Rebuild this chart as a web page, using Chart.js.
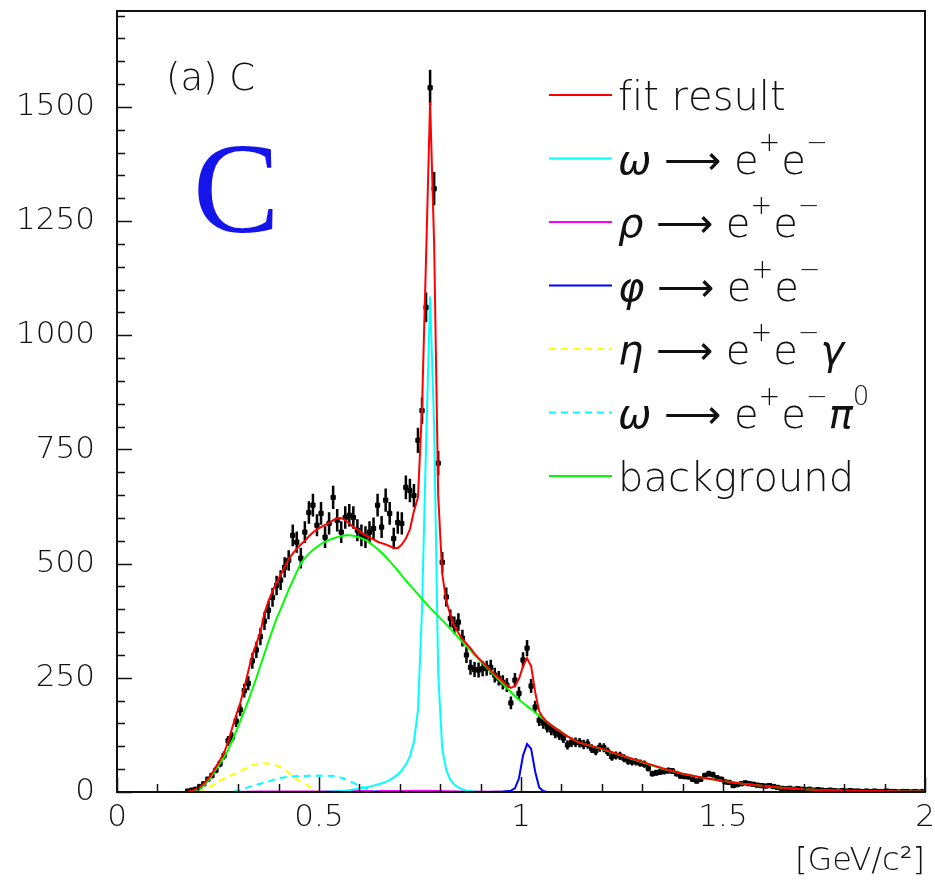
<!DOCTYPE html>
<html>
<head>
<meta charset="utf-8">
<script src="https://cdn.jsdelivr.net/npm/chart.js@4.4.0/dist/chart.umd.min.js"></script>
<style>
  html, body { margin: 0; padding: 0; background: #fff; }
  #wrap { width: 935px; height: 884px; }
</style>
</head>
<body>
<div id="wrap"><canvas id="massChart" width="935" height="884"></canvas></div>
<script>
// histogram: 10 MeV bins starting at 0.17 GeV
const histLow = 0.17;
const binWidth = 0.01;
const counts = [
  2, 4, 6, 12, 18, 28, 36, 48, 62, 80,
  112, 120, 155, 180, 222, 238, 287, 311, 340, 374,
  398, 426, 452, 464, 492, 507, 562, 547, 512, 569,
  612, 628, 584, 610, 558, 588, 645, 595, 569, 601,
  606, 601, 573, 562, 558, 569, 577, 628, 580, 639,
  610, 555, 590, 588, 667, 660, 649, 770, 835, 1061,
  1542, 1321, 720, 503, 427, 380, 365, 372, 337, 300,
  273, 268, 267, 270, 271, 273, 256, 249, 240, 234,
  195, 245, 216, 289, 315, 232, 186, 157, 151, 142,
  136, 129, 125, 118, 103, 109, 109, 108, 104, 105,
  95, 90, 98, 97, 88, 77, 80, 79, 74, 68,
  66, 66, 63, 61, 52, 40, 42, 44, 45, 47,
  46, 40, 35, 34, 33, 28, 24, 28, 36, 40,
  38, 31, 28, 22, 21, 14, 16, 18, 20, 18,
  17, 15, 14, 13, 14, 12, 10, 8, 7, 8,
  6, 7, 6, 5, 6, 4, 5, 4, 3, 4,
  3, 2, 3, 2, 3, 2, 2, 1, 2, 1,
  2, 1, 1, 2, 1, 1, 0, 1, 1, 0,
  1, 0, 1
];

// fit curves, dense part on the bin centres 0.175 .. 1.145
const fitDense = [
  1, 3, 6, 11, 18, 28, 40, 55, 70, 86,
  110, 140, 168, 195, 228, 265, 300, 325, 350, 392,
  418, 440, 458, 475, 492, 510, 522, 533, 542, 550,
  560, 568, 575, 580, 585, 589, 595, 599, 600, 595,
  588, 580, 575, 568, 562, 557, 553, 548, 545, 542,
  538, 535, 534, 542, 555, 575, 615, 645, 840, 1170,
  1510, 1200, 650, 478, 418, 388, 364, 348, 335, 325,
  315, 303, 293, 284, 275, 266, 258, 250, 242, 234,
  228, 232, 248, 275, 293, 276, 219, 177, 162, 153,
  146, 140, 134, 128, 122, 117, 112, 108
];
const backgroundDense = [
  0, 1, 3, 7, 14, 24, 36, 50, 63, 76,
  92, 112, 133, 155, 177, 200, 225, 250, 277, 303,
  330, 355, 380, 400, 422, 443, 462, 482, 500, 512,
  522, 530, 537, 543, 548, 552, 555, 558, 560, 562,
  562, 561, 559, 556, 552, 546, 539, 532, 524, 515,
  505, 495, 485, 474, 463, 453, 443, 433, 423, 413,
  403, 394, 385, 376, 367, 358, 348, 338, 329, 319,
  310, 300, 291, 282, 273, 264, 255, 246, 237, 228,
  219, 210, 202, 195, 188, 181, 174, 167, 160, 153,
  146, 140, 134, 128, 122, 117, 112, 108
];
const tailMass = [1.2, 1.25, 1.3, 1.35, 1.4, 1.45, 1.5, 1.55, 1.6, 1.65, 1.7, 1.75, 1.8, 1.85, 1.9, 1.95, 2.0];
const fitTail = [95, 80, 66, 52, 40, 31, 24, 18, 13, 9, 6, 4, 3, 2, 2, 1, 1];
const backgroundTail = [94, 79, 65, 51, 40, 31, 24, 18, 13, 9, 6, 4, 3, 2, 2, 1, 1];

// signal components as [mass, value]
const omegaEE = [[0.2, 0], [0.5, 0], [0.555, 2], [0.575, 4], [0.595, 7], [0.615, 10], [0.635, 14], [0.655, 19],
  [0.675, 26], [0.695, 38], [0.705, 48], [0.715, 60], [0.725, 78], [0.735, 110], [0.745, 180], [0.755, 400],
  [0.765, 760], [0.775, 1085], [0.785, 800], [0.795, 260], [0.805, 95], [0.815, 48], [0.825, 27], [0.835, 16],
  [0.845, 10], [0.855, 6], [0.865, 3], [0.885, 1], [0.9, 0], [2.0, 0]];
const rhoEE = [[0.2, 0], [0.3, 0], [0.35, 1], [0.5, 1], [0.6, 2], [0.7, 2], [0.77, 3], [0.85, 1], [1.0, 0], [2.0, 0]];
const phiEE = [[0.92, 0], [0.955, 1], [0.975, 3], [0.985, 8], [0.995, 30], [1.005, 80], [1.015, 105],
  [1.025, 95], [1.035, 45], [1.045, 10], [1.055, 2], [1.065, 0]];
const etaDalitz = [[0.2, 0], [0.215, 3], [0.23, 11], [0.25, 22], [0.27, 32], [0.295, 41], [0.315, 50], [0.335, 59],
  [0.365, 63], [0.385, 61], [0.405, 55], [0.42, 46], [0.435, 34], [0.45, 25], [0.47, 15], [0.485, 7], [0.495, 0], [2.0, 0]];
const omegaDalitz = [[0.2, 0], [0.28, 0], [0.3, 3], [0.32, 9], [0.35, 17], [0.37, 22], [0.4, 30], [0.43, 34],
  [0.45, 35], [0.5, 36], [0.54, 35], [0.56, 30], [0.58, 22], [0.6, 14], [0.62, 6], [0.64, 1], [0.66, 0], [2.0, 0]];

const seriesLabels = ['fit result', 'ω ⟶ e^+e^−', 'ρ ⟶ e^+e^−', 'φ ⟶ e^+e^−', 'η ⟶ e^+e^−γ', 'ω ⟶ e^+e^−π^0', 'background'];
const xTicks = [0, 0.5, 1, 1.5, 2];
const xTickLabels = ['0', '0.5', '1', '1.5', '2'];
const yTicks = [0, 250, 500, 750, 1000, 1250, 1500];
const yTickLabels = ['0', '250', '500', '750', '1000', '1250', '1500'];

const binCenter = i => +(histLow + (i + 0.5) * binWidth).toFixed(3);
const dataPts = counts.map((c, i) => ({ x: binCenter(i), y: c }));
const densePts = arr => arr.map((v, i) => ({ x: binCenter(i), y: v }));
const tailPts = arr => arr.map((v, i) => ({ x: tailMass[i], y: v }));
const pairPts = arr => arr.map(p => ({ x: p[0], y: p[1] }));

const FONT = "'DejaVu Sans'";

function drawRich(ctx, text, x, y) {
  for (let i = 0; i < text.length; i++) {
    let ch = text[i], sup = false;
    if (ch === '^') { sup = true; ch = text[++i]; }
    const greek = /[\u0370-\u03ff]/.test(ch);
    ctx.font = (greek ? 'italic ' : '') + '200 ' + (sup ? 26 : 40) + 'px ' + FONT;
    ctx.fillText(ch, x, sup ? y - 23 : y);
    x += ctx.measureText(ch).width + (sup ? 1 : 0);
  }
}

const rootStyle = {
  id: 'rootStyle',
  beforeDatasetsDraw(chart) {
    // error bars of the data histogram
    const { ctx, chartArea: a, scales: { x, y } } = chart;
    ctx.save();
    ctx.beginPath();
    ctx.rect(a.left, a.top, a.width, a.height);
    ctx.clip();
    ctx.strokeStyle = '#000';
    ctx.lineWidth = 2.5;
    counts.forEach((c, i) => {
      const m = binCenter(i);
      const px = x.getPixelForValue(m), py = y.getPixelForValue(c);
      const e = Math.sqrt(c);
      ctx.beginPath();
      ctx.moveTo(x.getPixelForValue(m - binWidth / 2), py);
      ctx.lineTo(x.getPixelForValue(m + binWidth / 2), py);
      if (c > 0) {
        ctx.moveTo(px, y.getPixelForValue(c - e));
        ctx.lineTo(px, y.getPixelForValue(c + e));
      }
      ctx.stroke();
    });
    ctx.restore();
  },
  afterDraw(chart) {
    const { ctx, chartArea: a, scales: { x, y } } = chart;
    ctx.save();
    // frame
    ctx.strokeStyle = '#111';
    ctx.lineWidth = 2;
    ctx.strokeRect(a.left, a.top, a.width, a.height);
    // inward ticks
    ctx.lineWidth = 1.5;
    ctx.beginPath();
    for (let v = 0; v <= y.max; v += 50) {
      const py = Math.round(y.getPixelForValue(v)) + 0.5;
      ctx.moveTo(a.left, py);
      ctx.lineTo(a.left + (v % 250 === 0 ? 15 : 8), py);
    }
    for (let k = 0; k <= 20; k++) {
      const px = Math.round(x.getPixelForValue(k / 10)) + 0.5;
      ctx.moveTo(px, a.bottom);
      ctx.lineTo(px, a.bottom - (k % 5 === 0 ? 15 : 8));
    }
    ctx.stroke();

    // pad label
    ctx.fillStyle = '#111';
    ctx.textBaseline = 'alphabetic';
    ctx.font = '200 37px ' + FONT;
    ctx.fillText('(a) C', 166, 90);
    ctx.fillStyle = 'rgb(20,20,235)';
    ctx.font = "130px 'Liberation Serif'";
    ctx.fillText('C', 193, 232);

    // legend
    const rows = chart.data.datasets.filter(d => d.label !== 'data');
    rows.forEach((d, i) => {
      const ly = 95 + i * 63.5;
      ctx.strokeStyle = d.borderColor;
      ctx.lineWidth = 2;
      ctx.setLineDash(d.borderDash || []);
      ctx.beginPath();
      ctx.moveTo(549, ly);
      ctx.lineTo(612, ly);
      ctx.stroke();
      ctx.setLineDash([]);
      ctx.fillStyle = '#111';
      drawRich(ctx, d.label, 618, ly + 15);
    });
    ctx.restore();
  }
};

const curve = (label, data, color, order, dash) => ({
  label, data, borderColor: color, backgroundColor: color,
  showLine: true, pointRadius: 0, borderWidth: 2, order,
  borderDash: dash || []
});

const ctx = document.getElementById('massChart').getContext('2d');
const massChart = new Chart(ctx, {
  type: 'scatter',
  data: {
    datasets: [
      curve(seriesLabels[0], densePts(fitDense).concat(tailPts(fitTail)), '#ff0000', 2),
      curve(seriesLabels[1], pairPts(omegaEE), '#00ffff', 5),
      curve(seriesLabels[2], pairPts(rhoEE), '#ff00ff', 6),
      curve(seriesLabels[3], pairPts(phiEE), '#0000ff', 4),
      curve(seriesLabels[4], pairPts(etaDalitz), '#ffff00', 1, [7, 5]),
      curve(seriesLabels[5], pairPts(omegaDalitz), '#00ffff', 1, [7, 5]),
      curve(seriesLabels[6], densePts(backgroundDense).concat(tailPts(backgroundTail)), '#00ff00', 3),
      {
        label: 'data', data: dataPts, order: 10,
        pointStyle: 'rect', pointRadius: 3, borderWidth: 1,
        backgroundColor: '#000', borderColor: '#000', showLine: false
      }
    ]
  },
  options: {
    responsive: false,
    animation: false,
    devicePixelRatio: 1,
    layout: { padding: { top: 11, right: 10, left: 0, bottom: 0 } },
    plugins: { legend: { display: false }, tooltip: { enabled: false } },
    scales: {
      x: {
        type: 'linear', min: 0, max: 2,
        afterBuildTicks: s => { s.ticks = xTicks.map(v => ({ value: v })); },
        afterFit: s => { s.height = 92; s.paddingLeft = 0; s.paddingRight = 0; },
        grid: { display: false, drawTicks: false },
        border: { display: false },
        ticks: {
          padding: 7, color: '#111', maxRotation: 0, autoSkip: false,
          font: { family: FONT, size: 31, weight: 200 },
          callback: (v, i) => xTickLabels[i]
        },
        title: {
          display: true, text: '[GeV/c²]', align: 'end', color: '#111',
          font: { family: FONT, size: 32, weight: 200 },
          padding: { top: 0, bottom: 3 }
        }
      },
      y: {
        type: 'linear', min: 0, max: 1710,
        afterBuildTicks: s => { s.ticks = yTicks.map(v => ({ value: v })); },
        afterFit: s => { s.width = 117; s.paddingTop = 0; s.paddingBottom = 0; },
        grid: { display: false, drawTicks: false },
        border: { display: false },
        ticks: {
          padding: 22, color: '#111', autoSkip: false,
          font: { family: FONT, size: 31, weight: 200 },
          callback: (v, i) => yTickLabels[i]
        }
      }
    }
  },
  plugins: [rootStyle]
});
</script>
</body>
</html>
